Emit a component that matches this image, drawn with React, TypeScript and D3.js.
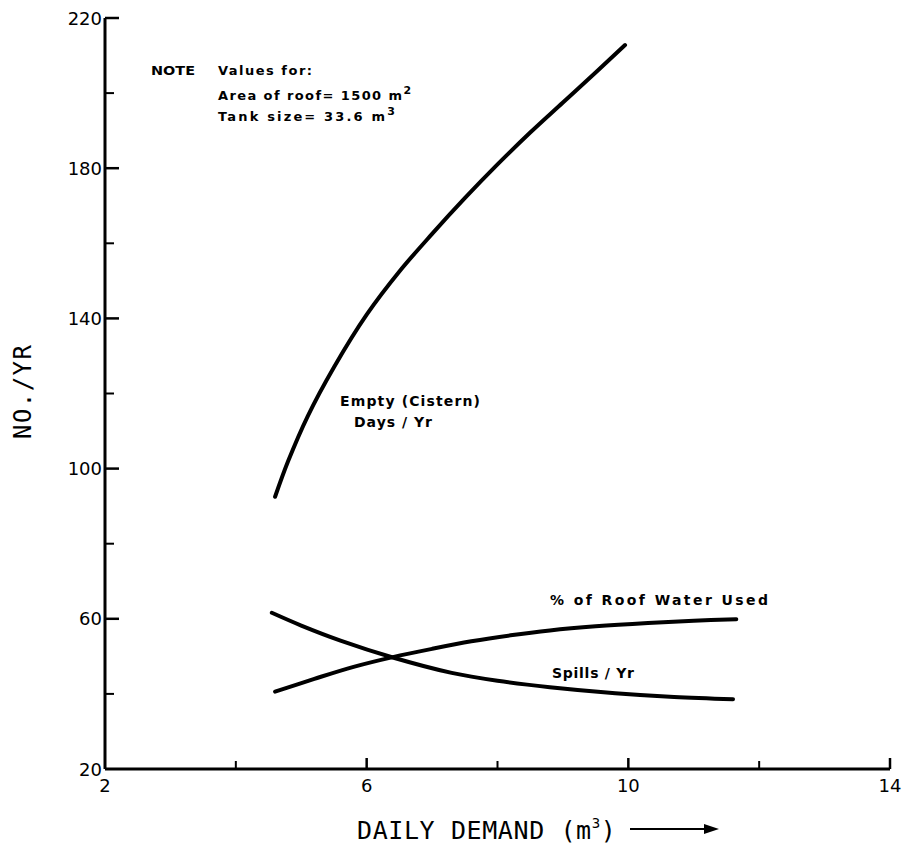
import React from "react";
import * as d3 from "d3";

const xTicksMajor = [2, 6, 10, 14];
const xTicksMinor = [4, 8, 12];
const yTicksMajor = [20, 60, 100, 140, 180, 220];
const yTicksMinor = [40, 80, 120, 160, 200];

const demandEmpty = [4.6, 4.8, 5.1, 5.5, 6.0, 6.5, 7.0, 7.5, 8.0, 8.5, 9.0, 9.5, 9.95];
const emptyDays = [92.5, 102, 114, 127, 141, 152.5, 162.5, 172, 181, 189.5, 197.5, 205.5, 212.8];

const demandRoof = [4.6, 5.2, 5.8, 6.4, 7.0, 7.6, 8.2, 8.8, 9.5, 10.3, 11.0, 11.65];
const roofUsed = [40.6, 44, 47.2, 49.8, 52, 54, 55.6, 56.9, 58, 58.9, 59.5, 59.9];

const demandSpills = [4.55, 5.0, 5.6, 6.4, 7.3, 8.0, 8.8, 9.8, 10.7, 11.6];
const spills = [61.6, 58.2, 54.2, 49.7, 45.6, 43.5, 41.8, 40.2, 39.2, 38.6];

const W = 905;
const H = 844;

export default function App() {
  const x = d3.scaleLinear().domain([2, 14]).range([105, 890]);
  const y = d3.scaleLinear().domain([20, 220]).range([769, 18]);
  const line = d3
    .line<[number, number]>()
    .x((d) => x(d[0]))
    .y((d) => y(d[1]))
    .curve(d3.curveCatmullRom.alpha(0.5));

  const series = [
    demandEmpty.map((d, i) => [d, emptyDays[i]] as [number, number]),
    demandRoof.map((d, i) => [d, roofUsed[i]] as [number, number]),
    demandSpills.map((d, i) => [d, spills[i]] as [number, number]),
  ];

  const x0 = x(2);
  const y0 = y(20);
  const tickFont = "DejaVu Sans, sans-serif";
  const annFont = "DejaVu Sans, sans-serif";

  return (
    <svg
      width={W}
      height={H}
      style={{ position: "absolute", left: 0, top: 0, background: "#fff" }}
    >
      <rect width={W} height={H} fill="#fff" />
      {/* axes */}
      <line x1={x0} y1={y(220)} x2={x0} y2={y0} stroke="#000" strokeWidth={3} />
      <line x1={x0} y1={y0} x2={x(14)} y2={y0} stroke="#000" strokeWidth={3} />
      {/* y ticks */}
      {yTicksMajor.map((t) => (
        <g key={"ym" + t}>
          {t !== 20 && (
            <line x1={x0} x2={x0 + 14} y1={y(t)} y2={y(t)} stroke="#000" strokeWidth={2.5} />
          )}
          <text
            x={x0 - 3}
            y={y(t)}
            textAnchor="end"
            dominantBaseline="central"
            fontFamily={tickFont}
            fontSize={18}
          >
            {t}
          </text>
        </g>
      ))}
      {yTicksMinor.map((t) => (
        <line key={"yn" + t} x1={x0} x2={x0 + 9} y1={y(t)} y2={y(t)} stroke="#000" strokeWidth={2} />
      ))}
      {/* x ticks */}
      {xTicksMajor.map((t) => (
        <g key={"xm" + t}>
          {t !== 2 && (
            <line x1={x(t)} x2={x(t)} y1={y0} y2={y0 - 11} stroke="#000" strokeWidth={2.5} />
          )}
          <text
            x={x(t)}
            y={y0 + 16}
            textAnchor="middle"
            dominantBaseline="central"
            fontFamily={tickFont}
            fontSize={18}
          >
            {t}
          </text>
        </g>
      ))}
      {xTicksMinor.map((t) => (
        <line key={"xn" + t} x1={x(t)} x2={x(t)} y1={y0} y2={y0 - 8} stroke="#000" strokeWidth={2} />
      ))}

      {/* curves */}
      {series.map((s, i) => (
        <path
          key={"s" + i}
          d={line(s) || ""}
          fill="none"
          stroke="#000"
          strokeWidth={4}
          strokeLinecap="round"
          strokeLinejoin="round"
        />
      ))}

      {/* note */}
      <g fontFamily={annFont} fontWeight="bold" fontSize={13}>
        <text x={151} y={75} textLength={44} lengthAdjust="spacingAndGlyphs">NOTE</text>
        <text x={218} y={75} textLength={94} lengthAdjust="spacing">Values for:</text>
        <text x={218} y={100}>
          <tspan textLength={184} lengthAdjust="spacing">Area of roof=  1500 m</tspan>
          <tspan dy={-6} fontSize={11}>2</tspan>
        </text>
        <text x={218} y={121}>
          <tspan textLength={167} lengthAdjust="spacing">Tank size=  33.6 m</tspan>
          <tspan dy={-6} fontSize={11}>3</tspan>
        </text>
      </g>

      {/* curve labels */}
      <g fontFamily={annFont} fontWeight="bold" fontSize={14}>
        <text x={340} y={406} textLength={140} lengthAdjust="spacing">Empty (Cistern)</text>
        <text x={354} y={427} textLength={78} lengthAdjust="spacing">Days / Yr</text>
        <text x={550} y={605} textLength={218} lengthAdjust="spacing">% of Roof Water Used</text>
        <text x={552} y={678} textLength={82} lengthAdjust="spacing">Spills / Yr</text>
      </g>

      {/* axis titles */}
      <text
        x={357}
        y={839}
        fontFamily="DejaVu Sans Mono, monospace"
        fontSize={25}
        letterSpacing={0.6}
      >
        <tspan>DAILY DEMAND (m</tspan>
        <tspan dy={-11} fontSize={14}>3</tspan>
        <tspan dy={11}>)</tspan>
      </text>
      <line x1={630} x2={708} y1={829} y2={829} stroke="#000" strokeWidth={2} />
      <path d="M719,829 L704,824 L704,834 Z" fill="#000" />
      <text
        transform={`translate(31,392) rotate(-90)`}
        textAnchor="middle"
        fontFamily="DejaVu Sans Mono, monospace"
        fontSize={24}
        textLength={94}
        lengthAdjust="spacing"
      >
        NO./YR
      </text>
    </svg>
  );
}
